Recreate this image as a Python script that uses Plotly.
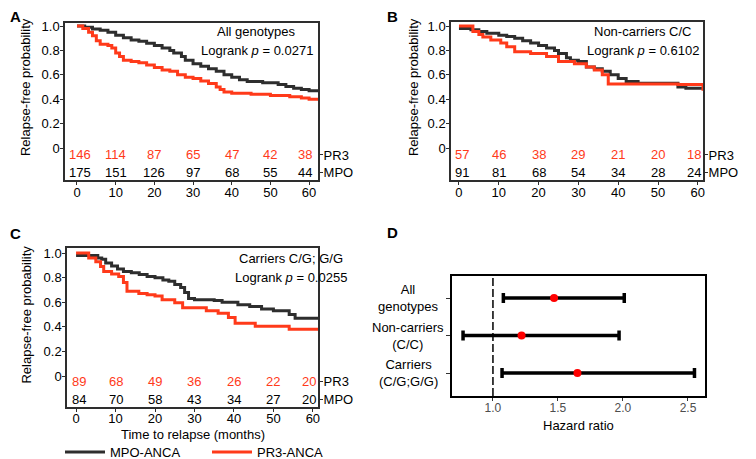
import plotly.graph_objects as go

W, H = 756, 459
OFF = 8  # the page body adds an 8 px margin; layout positions below are page pixels
FONT = "Liberation Sans, Arial, sans-serif"
INK = "#2e2e2e"
RED = "#ff3a1a"

risk_times = [0, 10, 20, 30, 40, 50, 60]

# A: all genotypes
a_mpo_t = [0, 2, 4, 6, 8, 10, 12, 14, 16, 18, 20, 22, 24, 25, 27, 28, 30, 32, 34, 36,
           38, 40, 42, 44, 48, 52, 54, 56, 58, 60, 62.3]
a_mpo_s = [1.0, 0.99, 0.975, 0.965, 0.95, 0.925, 0.905, 0.885, 0.875, 0.86, 0.84, 0.82,
           0.80, 0.78, 0.75, 0.72, 0.69, 0.67, 0.65, 0.63, 0.60, 0.58, 0.56, 0.545, 0.535,
           0.52, 0.505, 0.49, 0.48, 0.47, 0.46]
a_pr3_t = [0, 1.5, 3, 4, 5, 6, 8, 9, 10, 11, 12, 14, 16, 18, 20, 22, 24, 26, 28, 30,
           32, 34, 36, 37, 38, 40, 45, 50, 55, 58, 60, 62.3]
a_pr3_s = [1.0, 0.98, 0.95, 0.92, 0.88, 0.85, 0.84, 0.82, 0.78, 0.75, 0.72, 0.71, 0.70,
           0.68, 0.66, 0.64, 0.63, 0.60, 0.58, 0.57, 0.55, 0.53, 0.50, 0.48, 0.46, 0.45,
           0.44, 0.43, 0.42, 0.41, 0.40, 0.39]
a_pr3_n = [146, 114, 87, 65, 47, 42, 38]
a_mpo_n = [175, 151, 126, 97, 68, 55, 44]

# B: non-carriers C/C
b_mpo_t = [0, 3, 5, 7, 10, 12, 14, 16, 18, 20, 22, 24, 25, 27, 28, 30, 32, 34, 36, 38,
           40, 42, 45, 55, 57, 61.3]
b_mpo_s = [0.98, 0.97, 0.955, 0.94, 0.925, 0.915, 0.90, 0.88, 0.86, 0.84, 0.82, 0.80,
           0.775, 0.74, 0.72, 0.71, 0.665, 0.65, 0.63, 0.60, 0.57, 0.545, 0.53, 0.50,
           0.49, 0.48]
b_pr3_t = [0, 3.5, 5, 6, 8, 10.5, 12, 14, 18, 22, 25, 29, 32, 34, 36, 37.5, 45, 55, 60, 61.3]
b_pr3_s = [1.0, 0.955, 0.93, 0.91, 0.885, 0.86, 0.83, 0.79, 0.775, 0.75, 0.71, 0.69,
           0.665, 0.64, 0.60, 0.525, 0.525, 0.52, 0.52, 0.47]
b_pr3_n = [57, 46, 38, 29, 21, 20, 18]
b_mpo_n = [91, 81, 68, 54, 34, 28, 24]

# C: carriers C/G; G/G
c_mpo_t = [0, 5.5, 6.5, 7.5, 9, 10.5, 12, 14, 16, 18, 20, 22, 23.5, 25, 26.5, 27.5, 28.5,
           30, 35, 37, 41, 44, 47, 50, 54, 55.5, 61.3]
c_mpo_s = [0.98, 0.96, 0.95, 0.92, 0.895, 0.87, 0.85, 0.84, 0.825, 0.81, 0.80, 0.78,
           0.77, 0.745, 0.72, 0.68, 0.63, 0.62, 0.615, 0.60, 0.58, 0.565, 0.545, 0.53,
           0.50, 0.47, 0.47]
c_pr3_t = [0, 3.2, 5, 6.2, 7, 9, 10.8, 12, 12.9, 15.9, 18, 20, 21.8, 25, 27, 33, 36,
           38.6, 40.3, 45.4, 54, 61.3]
c_pr3_s = [1.0, 0.96, 0.93, 0.89, 0.85, 0.83, 0.81, 0.76, 0.69, 0.67, 0.66, 0.65, 0.62,
           0.595, 0.555, 0.53, 0.51, 0.475, 0.43, 0.405, 0.38, 0.38]
c_pr3_n = [89, 68, 49, 36, 26, 22, 20]
c_mpo_n = [84, 70, 58, 43, 34, 27, 20]

# D: hazard ratios PR3 vs MPO
hr_groups = ["All<br>genotypes", "Non-carriers<br>(C/C)", "Carriers<br>(C/G;G/G)"]
hr_est = [1.47, 1.22, 1.65]
hr_lo = [1.08, 0.77, 1.07]
hr_hi = [2.01, 1.97, 2.55]


def px(x):
    return (x - OFF) / W


def py(y):
    return 1 - (y - OFF) / H


def note(text, x, y, xref="paper", yref="paper", **kw):
    # anchors fixed so plotly's "auto" anchoring does not move the text
    d = dict(text=text, x=x, y=y, xref=xref, yref=yref, showarrow=False,
             xanchor="center", yanchor="middle", font=dict(size=13, color="black"))
    d.update(kw)
    return d


PANELS = [
    dict(letter="A", letter_xy=(8, 16), title="All genotypes", p="0.0271",
         mpo=(a_mpo_t, a_mpo_s), pr3=(a_pr3_t, a_pr3_s), n_pr3=a_pr3_n, n_mpo=a_mpo_n,
         box=(65, 23, 318, 180), xr=[-3.1, 62.3], yr=[-0.262, 1.025],
         rows=(-0.057, -0.197), text_cx=256.5, text_y=(31, 50), ytitle_x=25),
    dict(letter="B", letter_xy=(385, 16), title="Non-carriers C/C", p="0.6102",
         mpo=(b_mpo_t, b_mpo_s), pr3=(b_pr3_t, b_pr3_s), n_pr3=b_pr3_n, n_mpo=b_mpo_n,
         box=(451, 22, 703, 180), xr=[-2.0, 61.3], yr=[-0.262, 1.033],
         rows=(-0.057, -0.197), text_cx=642.5, text_y=(31, 50), ytitle_x=413),
    dict(letter="C", letter_xy=(8, 233), title="Carriers C/G; G/G", p="0.0255",
         mpo=(c_mpo_t, c_mpo_s), pr3=(c_pr3_t, c_pr3_s), n_pr3=c_pr3_n, n_mpo=c_mpo_n,
         box=(67, 248, 318, 407), xr=[-2.3, 61.3], yr=[-0.252, 1.041],
         rows=(-0.046, -0.19), text_cx=290.5, text_y=(258, 277), ytitle_x=27),
]

fig = go.Figure()
annotations = []
layout_axes = {}
BOLD = dict(size=15, color="black", family=FONT)

for i, pan in enumerate(PANELS, start=1):
    xa = "x" if i == 1 else f"x{i}"
    ya = "y" if i == 1 else f"y{i}"
    right_id = i + 4
    x0, y0, x1, y1 = pan["box"]

    for name, (t, s), color in (("MPO-ANCA", pan["mpo"], INK), ("PR3-ANCA", pan["pr3"], RED)):
        fig.add_trace(go.Scatter(
            x=t, y=s, mode="lines", name=name, line=dict(color=color, width=3, shape="hv"),
            xaxis=xa, yaxis=ya, legendgroup=name, showlegend=(i == 3), hoverinfo="skip",
        ))

    axis_common = dict(showline=True, linecolor=INK, linewidth=1.5, mirror=True,
                       showgrid=False, zeroline=False, ticks="outside", ticklen=3,
                       tickwidth=1, tickcolor=INK, tickfont=dict(size=13, color="black"))
    layout_axes["xaxis" if i == 1 else f"xaxis{i}"] = dict(
        axis_common, domain=[px(x0), px(x1)], range=pan["xr"], anchor=ya,
        tickvals=risk_times, ticktext=[str(v) for v in risk_times],
        ticklabelstandoff=-4 if i == 3 else -3)
    layout_axes["yaxis" if i == 1 else f"yaxis{i}"] = dict(
        axis_common, domain=[py(y1), py(y0)], range=pan["yr"], anchor=xa,
        tickvals=[0, 0.2, 0.4, 0.6, 0.8, 1.0], ticklabelstandoff=-2,
        ticktext=["0", "0.2", "0.4", "0.6", "0.8", "1.0"])
    layout_axes[f"yaxis{right_id}"] = dict(
        overlaying=ya, side="right", anchor=xa, range=pan["yr"], showgrid=False,
        zeroline=False, showline=False, ticks="outside", ticklen=4, tickcolor=INK,
        tickvals=list(pan["rows"]), ticktext=["PR3", "MPO"], ticklabelstandoff=-2,
        tickfont=dict(size=13, color="black"))
    # empty trace so the right-hand axis is drawn
    fig.add_trace(go.Scatter(x=[None], y=[None], xaxis=xa, yaxis=f"y{right_id}",
                             showlegend=False, hoverinfo="skip"))

    # number at risk table
    last = len(risk_times) - 1
    for k, t in enumerate(risk_times):
        shift = 3 if k == 0 else (-4 if k == last else 0)
        for n_list, row_y, color in ((pan["n_pr3"], pan["rows"][0], RED),
                                     (pan["n_mpo"], pan["rows"][1], "black")):
            annotations.append(note(str(n_list[k]), t, row_y, xref=xa, yref=ya, xshift=shift,
                                    font=dict(size=13, color=color)))

    # subgroup name and log-rank p
    annotations.append(note(pan["title"], px(pan["text_cx"]), py(pan["text_y"][0])))
    annotations.append(note(f"Logrank <i>p</i> = {pan['p']}", px(pan["text_cx"]),
                            py(pan["text_y"][1])))
    annotations.append(note("Relapse-free probability", px(pan["ytitle_x"]), 0.5,
                            yref=ya, textangle=-90))
    annotations.append(note(f"<b>{pan['letter']}</b>", px(pan["letter_xy"][0]),
                            py(pan["letter_xy"][1]), xanchor="left", font=BOLD))

annotations.append(note("Time to relapse (months)", 0.5, py(434), xref="x3 domain"))

# panel D: forest plot
hr_y = [len(hr_groups) - 1 - k for k in range(len(hr_groups))]
fig.add_trace(go.Scatter(
    x=hr_est, y=hr_y, mode="markers", xaxis="x4", yaxis="y4", showlegend=False,
    marker=dict(color="#ff0000", size=8),
    error_x=dict(type="data", symmetric=False,
                 array=[h - e for h, e in zip(hr_hi, hr_est)],
                 arrayminus=[e - l for e, l in zip(hr_est, hr_lo)],
                 color="black", thickness=3.5, width=5),
    hoverinfo="skip",
))
layout_axes["xaxis4"] = dict(
    domain=[px(452), px(705)], range=[0.685, 2.631], anchor="y4", showline=True,
    linecolor="black", linewidth=1.5, mirror=True, showgrid=False, zeroline=False,
    ticks="outside", ticklen=3, tickcolor="#333333", tickvals=[1.0, 1.5, 2.0, 2.5],
    ticktext=["1.0", "1.5", "2.0", "2.5"], ticklabelstandoff=-3,
    tickfont=dict(size=12, color="#4d4d4d"))
layout_axes["yaxis4"] = dict(
    domain=[py(396), py(276)], range=[-0.613, 2.587], anchor="x4", showline=True,
    linecolor="black", linewidth=1.5, mirror=True, showgrid=False, zeroline=False,
    ticks="outside", ticklen=4, tickcolor="#333333", tickvals=hr_y, showticklabels=False)

for g, yv in zip(hr_groups, hr_y):
    annotations.append(note(g, px(408), yv, yref="y4", align="center"))
annotations.append(note("Hazard ratio", 0.5, py(425), xref="x4 domain"))
annotations.append(note("<b>D</b>", px(385), py(232), xanchor="left", font=BOLD))

shapes = [dict(type="line", xref="x4", yref="y4 domain", x0=1.0, x1=1.0, y0=0, y1=1,
               line=dict(color="black", width=1.5, dash="8px,3px"))]

fig.update_layout(
    width=W, height=H, margin=dict(l=0, r=0, t=0, b=0, autoexpand=False),
    paper_bgcolor="white", plot_bgcolor="white",
    font=dict(family=FONT, size=13, color="black"),
    annotations=annotations, shapes=shapes,
    legend=dict(orientation="h", x=px(60), y=py(452), xanchor="left", yanchor="middle",
                itemwidth=40, entrywidth=92, font=dict(size=13), bgcolor="rgba(0,0,0,0)"),
    **layout_axes,
)

fig.write_html("out.html")
